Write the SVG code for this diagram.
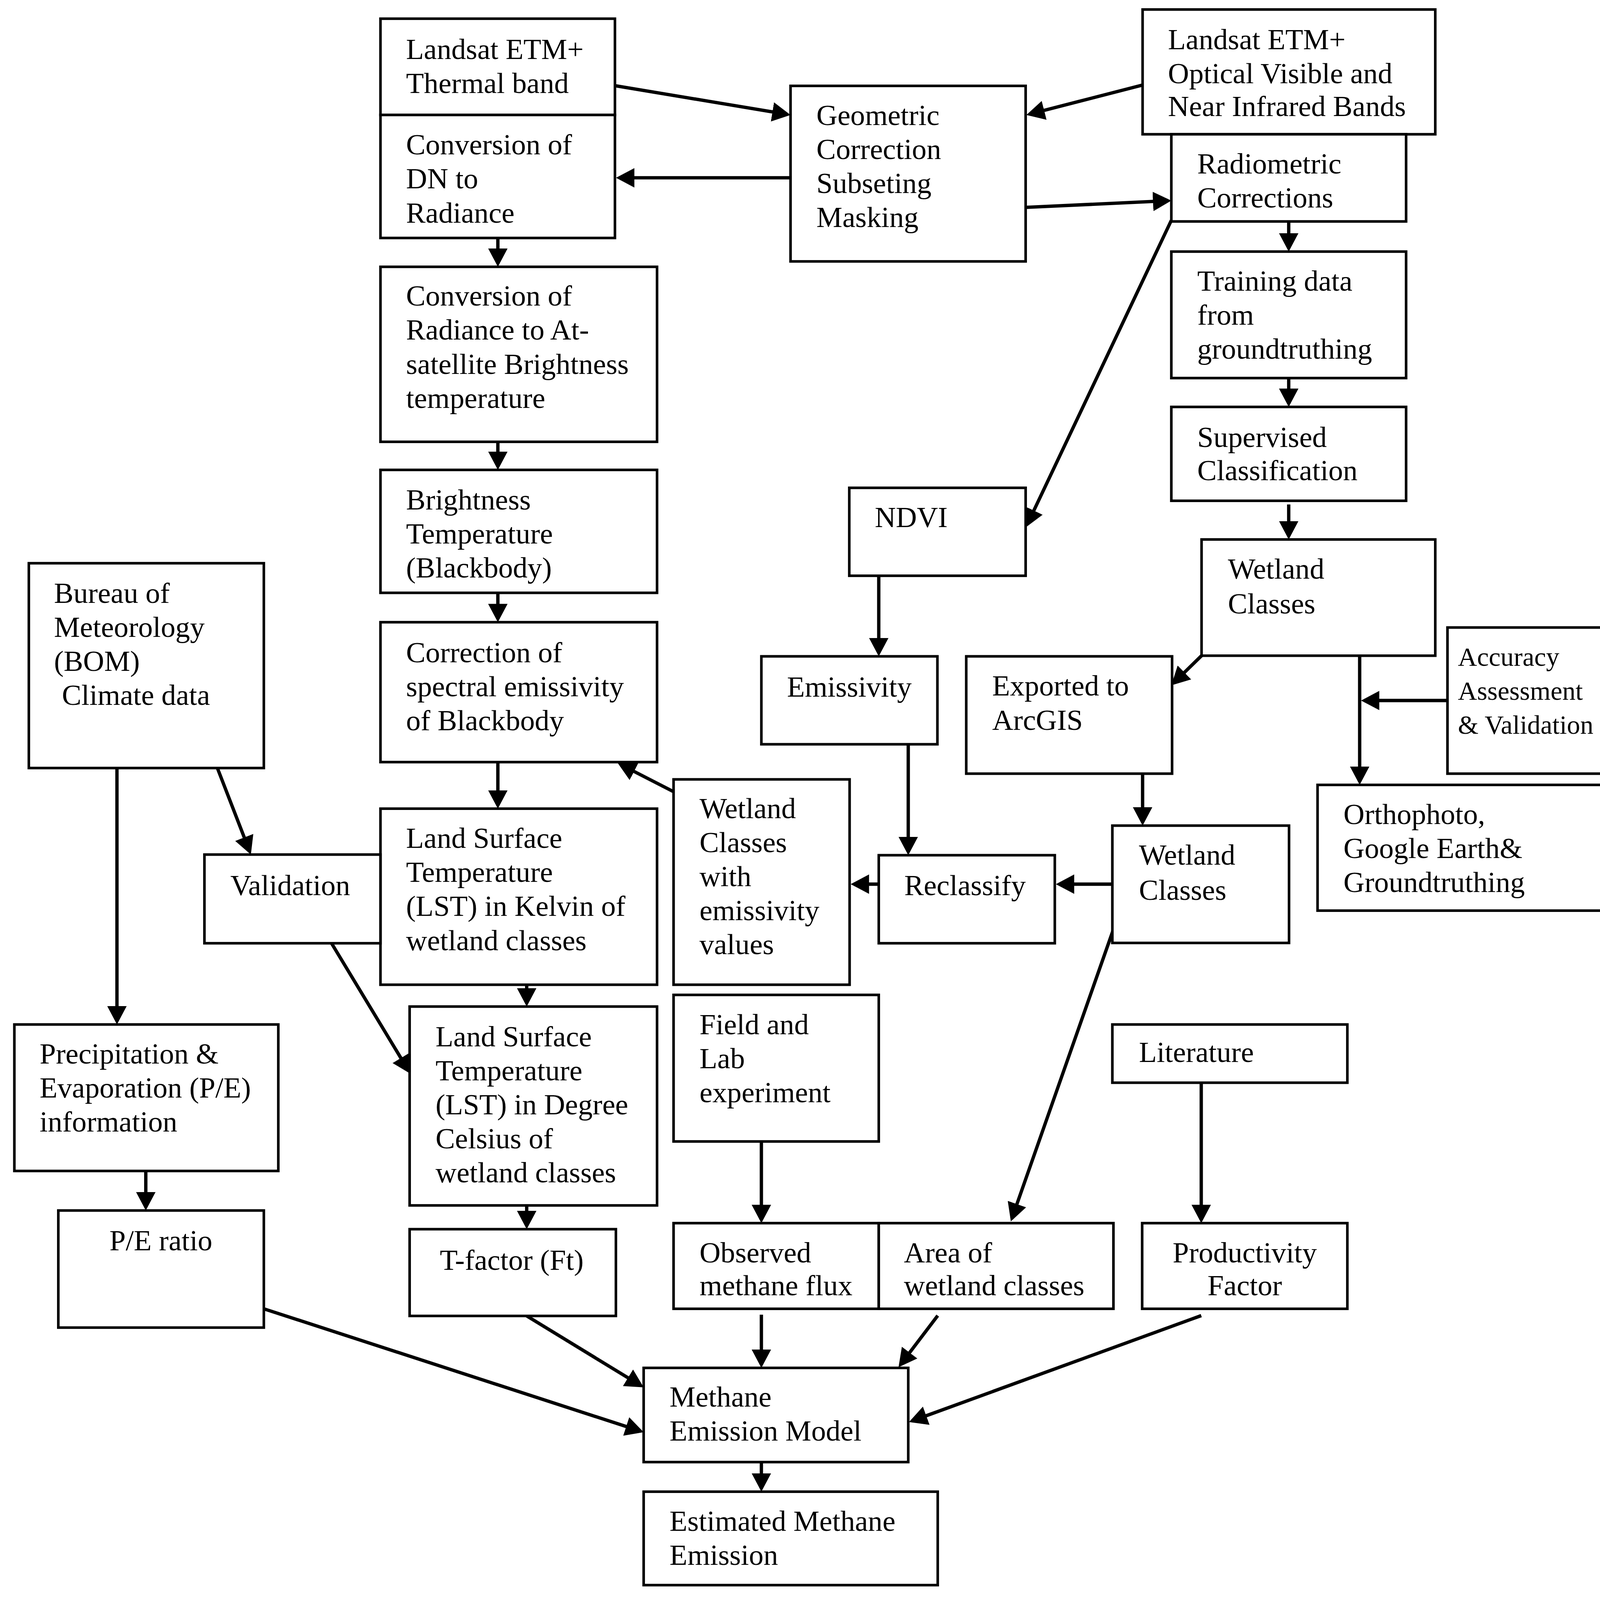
<svg xmlns="http://www.w3.org/2000/svg" width="4335" height="4095" viewBox="0 0 4335 4095">
<defs>
<marker id="ah" markerUnits="userSpaceOnUse" markerWidth="17" markerHeight="18" refX="14" refY="9" orient="auto" viewBox="0 0 17 18">
<path d="M0,0 L17,9 L0,18 z" fill="#000"/>
</marker>
<style>
.box{fill:#fff;stroke:#000;stroke-width:2.4}
.t{font-family:"Liberation Serif","Times New Roman",serif;font-size:27px;fill:#000}
.m{text-anchor:middle}
.s{font-size:24.5px}
.c{fill:none;stroke:#000;stroke-width:3.1;marker-end:url(#ah)}
</style>
</defs>
<rect x="0" y="0" width="4335" height="4095" fill="#fff"/>
<g transform="scale(2.7647)">
<g id="connectors">
<path class="c" d="M569.4,79.3 L729.04,105.91"/>
<path class="c" d="M732,164.6 L573.4,164.6"/>
<path class="c" d="M1058,78.7 L953.3,105.65"/>
<path class="c" d="M949.7,192 L1081.6,185.84"/>
<path class="c" d="M1084.6,204 L951.3,485.3"/>
<path class="c" d="M461,220.3 L461,244"/>
<path class="c" d="M461,409 L461,432"/>
<path class="c" d="M461,548.8 L461,573"/>
<path class="c" d="M461,705.5 L461,745.6"/>
<path class="c" d="M1193.3,205 L1193.3,229.9"/>
<path class="c" d="M1193.3,350 L1193.3,373.7"/>
<path class="c" d="M1193.3,467 L1193.3,496.4"/>
<path class="c" d="M1112.6,607 L1086.74,632.3"/>
<path class="c" d="M1259,607 L1259,723.6"/>
<path class="c" d="M1340.3,648.5 L1263.3,648.5"/>
<path class="c" d="M1058,716.2 L1058,761.3"/>
<path class="c" d="M1031,818.5 L980.7,818.5"/>
<path class="c" d="M815.3,818.5 L790.7,818.5"/>
<path class="c" d="M813.7,533 L813.7,604.6"/>
<path class="c" d="M841,689 L841,788.7"/>
<path class="c" d="M623.7,732.9 L574.67,707.77"/>
<path class="c" d="M108.3,711 L108.3,945.4"/>
<path class="c" d="M201.3,711 L231.22,788.3"/>
<path class="c" d="M299,860 L378.45,991.43"/>
<path class="c" d="M487.7,911.6 L487.7,928.8"/>
<path class="c" d="M487.7,1116 L487.7,1134.9"/>
<path class="c" d="M135,1084 L135,1117.6"/>
<path class="c" d="M1031,860.3 L936.99,1127.87"/>
<path class="c" d="M705,1056.7 L705,1129.3"/>
<path class="c" d="M1112.3,1002.3 L1112.3,1129.3"/>
<path class="c" d="M705,1217 L705,1263.3"/>
<path class="c" d="M868.3,1217.9 L833.81,1263.31"/>
<path class="c" d="M244.3,1211.6 L593.15,1324.87"/>
<path class="c" d="M487.7,1218.2 L593.44,1282.74"/>
<path class="c" d="M1112.3,1217.9 L844.52,1315.37"/>
<path class="c" d="M705,1353.5 L705,1377.9"/>
</g>
<g id="thermal"><rect class="box" x="352.3" y="17.3" width="217.1" height="89.1"/>
<text class="t"><tspan x="376" y="54.5">Landsat ETM+</tspan><tspan x="376" y="86">Thermal band</tspan></text></g>
<g id="convDN"><rect class="box" x="352.3" y="106.4" width="217.1" height="113.9"/>
<text class="t"><tspan x="376" y="143">Conversion of</tspan><tspan x="376" y="174.5">DN to</tspan><tspan x="376" y="206">Radiance</tspan></text></g>
<g id="geometric"><rect class="box" x="732" y="79.5" width="217.7" height="162.5"/>
<text class="t"><tspan x="756" y="115.8">Geometric</tspan><tspan x="756" y="147.3">Correction</tspan><tspan x="756" y="178.7">Subseting</tspan><tspan x="756" y="210">Masking</tspan></text></g>
<g id="optical"><rect class="box" x="1058" y="8.8" width="271" height="115.5"/>
<text class="t"><tspan x="1081.5" y="45.6">Landsat ETM+</tspan><tspan x="1081.5" y="77.1">Optical Visible and</tspan><tspan x="1081.5" y="107.6">Near Infrared Bands</tspan></text></g>
<g id="radiometric"><rect class="box" x="1084.6" y="124.3" width="217.4" height="80.7"/>
<text class="t"><tspan x="1108.6" y="160.5">Radiometric</tspan><tspan x="1108.6" y="192">Corrections</tspan></text></g>
<g id="training"><rect class="box" x="1084.6" y="232.9" width="217.4" height="117.1"/>
<text class="t"><tspan x="1108.6" y="269">Training data</tspan><tspan x="1108.6" y="300.5">from</tspan><tspan x="1108.6" y="332">groundtruthing</tspan></text></g>
<g id="supervised"><rect class="box" x="1084.6" y="376.7" width="217.4" height="86.9"/>
<text class="t"><tspan x="1108.6" y="413.8">Supervised</tspan><tspan x="1108.6" y="444.4">Classification</tspan></text></g>
<g id="wetlandClassesTop"><rect class="box" x="1112.6" y="499.4" width="216.4" height="107.6"/>
<text class="t"><tspan x="1137" y="535.6">Wetland</tspan><tspan x="1137" y="567.7">Classes</tspan></text></g>
<g id="accuracy"><rect class="box" x="1340.3" y="580.9" width="217.3" height="135.3"/>
<text class="t s"><tspan x="1350" y="616.4">Accuracy</tspan><tspan x="1350" y="647.9">Assessment</tspan><tspan x="1350" y="679.4">&amp; Validation</tspan></text></g>
<g id="orthophoto"><rect class="box" x="1220" y="726.6" width="271.3" height="116.4"/>
<text class="t"><tspan x="1244" y="762.8">Orthophoto,</tspan><tspan x="1244" y="794.2">Google Earth&amp;</tspan><tspan x="1244" y="825.7">Groundtruthing</tspan></text></g>
<g id="exported"><rect class="box" x="894.7" y="607.6" width="190.6" height="108.6"/>
<text class="t"><tspan x="918.7" y="644">Exported to</tspan><tspan x="918.7" y="675.6">ArcGIS</tspan></text></g>
<g id="wetlandClassesLow"><rect class="box" x="1030" y="764.3" width="163.6" height="108.6"/>
<text class="t"><tspan x="1054.6" y="800.5">Wetland</tspan><tspan x="1054.6" y="833">Classes</tspan></text></g>
<g id="ndvi"><rect class="box" x="786.4" y="451.6" width="163.3" height="81.4"/>
<text class="t" x="810" y="488">NDVI</text></g>
<g id="emissivity"><rect class="box" x="705" y="607.6" width="163" height="81.4"/>
<text class="t" x="728.7" y="644.8">Emissivity</text></g>
<g id="reclassify"><rect class="box" x="813.7" y="791.7" width="163" height="81.5"/>
<text class="t" x="837.3" y="828.8">Reclassify</text></g>
<g id="wetlandEmissivity"><rect class="box" x="623.7" y="721.5" width="163" height="190.1"/>
<text class="t"><tspan x="647.7" y="757.4">Wetland</tspan><tspan x="647.7" y="789">Classes</tspan><tspan x="647.7" y="820.4">with</tspan><tspan x="647.7" y="851.8">emissivity</tspan><tspan x="647.7" y="883.3">values</tspan></text></g>
<g id="brightness"><rect class="box" x="352.3" y="435" width="256.1" height="113.8"/>
<text class="t"><tspan x="376" y="471.5">Brightness</tspan><tspan x="376" y="503">Temperature</tspan><tspan x="376" y="534.5">(Blackbody)</tspan></text></g>
<g id="convRad"><rect class="box" x="352.3" y="247" width="256.1" height="162"/>
<text class="t"><tspan x="376" y="283">Conversion of</tspan><tspan x="376" y="314.5">Radiance to At-</tspan><tspan x="376" y="346">satellite Brightness</tspan><tspan x="376" y="377.5">temperature</tspan></text></g>
<g id="correction"><rect class="box" x="352.3" y="576" width="256.1" height="129.5"/>
<text class="t"><tspan x="376" y="613">Correction of</tspan><tspan x="376" y="644.5">spectral emissivity</tspan><tspan x="376" y="676">of Blackbody</tspan></text></g>
<g id="lstKelvin"><rect class="box" x="352.3" y="748.6" width="256.1" height="163"/>
<text class="t"><tspan x="376" y="785">Land Surface</tspan><tspan x="376" y="816.5">Temperature</tspan><tspan x="376" y="848">(LST) in Kelvin of</tspan><tspan x="376" y="879.5">wetland classes</tspan></text></g>
<g id="validation"><rect class="box" x="189.3" y="791.1" width="163" height="82.1"/>
<text class="t" x="213.3" y="828.8">Validation</text></g>
<g id="bureau"><rect class="box" x="26.7" y="521.4" width="217.6" height="189.6"/>
<text class="t"><tspan x="50" y="558">Bureau of</tspan><tspan x="50" y="589.5">Meteorology</tspan><tspan x="50" y="621">(BOM)</tspan><tspan x="57.3" y="652.5">Climate data</tspan></text></g>
<g id="precipitation"><rect class="box" x="13.3" y="948.4" width="244.4" height="135.6"/>
<text class="t"><tspan x="36.7" y="984.5">Precipitation &amp;</tspan><tspan x="36.7" y="1016">Evaporation (P/E)</tspan><tspan x="36.7" y="1047.5">information</tspan></text></g>
<g id="peRatio"><rect class="box" x="54" y="1120.6" width="190.3" height="108.4"/>
<text class="t m" x="149" y="1157.4">P/E ratio</text></g>
<g id="lstCelsius"><rect class="box" x="379.3" y="931.8" width="229.1" height="184.1"/>
<text class="t"><tspan x="403.3" y="968.5">Land Surface</tspan><tspan x="403.3" y="1000">Temperature</tspan><tspan x="403.3" y="1031.5">(LST) in Degree</tspan><tspan x="403.3" y="1063">Celsius of</tspan><tspan x="403.3" y="1094.5">wetland classes</tspan></text></g>
<g id="tfactor"><rect class="box" x="379.3" y="1137.9" width="191" height="80.3"/>
<text class="t" x="407.3" y="1175.7">T-factor (Ft)</text></g>
<g id="field"><rect class="box" x="623.7" y="921" width="190" height="135.7"/>
<text class="t"><tspan x="647.7" y="957.5">Field and</tspan><tspan x="647.7" y="989">Lab</tspan><tspan x="647.7" y="1020.5">experiment</tspan></text></g>
<g id="literature"><rect class="box" x="1030" y="948.4" width="217.6" height="53.9"/>
<text class="t" x="1054.6" y="983">Literature</text></g>
<g id="observed"><rect class="box" x="623.7" y="1132.3" width="190" height="79.3"/>
<text class="t"><tspan x="647.7" y="1168.5">Observed</tspan><tspan x="647.7" y="1199">methane flux</tspan></text></g>
<g id="area"><rect class="box" x="813.7" y="1132.3" width="217.3" height="79.3"/>
<text class="t"><tspan x="837" y="1168.5">Area of</tspan><tspan x="837" y="1199">wetland classes</tspan></text></g>
<g id="productivity"><rect class="box" x="1057.6" y="1132.3" width="190" height="79.3"/>
<text class="t m"><tspan x="1152.6" y="1168.5">Productivity</tspan><tspan x="1152.6" y="1199">Factor</tspan></text></g>
<g id="methaneModel"><rect class="box" x="596" y="1266.3" width="245" height="87.2"/>
<text class="t"><tspan x="620" y="1302">Methane</tspan><tspan x="620" y="1333.7">Emission Model</tspan></text></g>
<g id="estimated"><rect class="box" x="596" y="1380.9" width="272.3" height="86.5"/>
<text class="t"><tspan x="620" y="1417">Estimated Methane</tspan><tspan x="620" y="1448.5">Emission</tspan></text></g>
</g>
</svg>
